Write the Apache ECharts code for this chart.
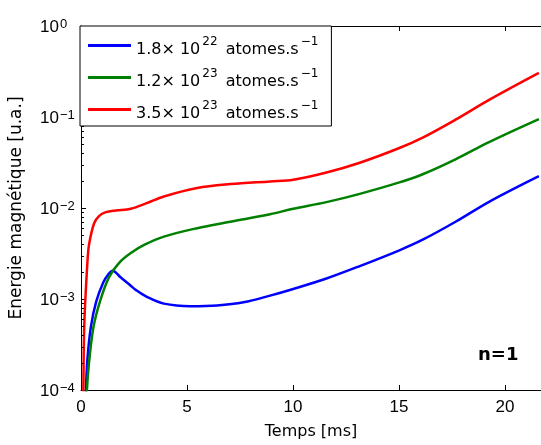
<!DOCTYPE html>
<html><head><meta charset="utf-8">
<script src="https://cdn.jsdelivr.net/npm/echarts@6/dist/echarts.min.js"></script>
<style>html,body{margin:0;padding:0;background:#fff}#c{width:541px;height:445px}</style>
</head><body><div id="c"></div>
<script>
// ---- data ----
const legendMantissa = ['1.8', '1.2', '3.5'];
const legendExponent = ['22', '23', '23'];
const seriesColors = ['#0000ff', '#008000', '#ff0000'];

const blueX = [0.15, 0.23, 0.31, 0.47, 0.72, 1.05, 1.30, 1.49, 1.88, 2.35, 2.58, 3.13, 3.91, 5.16, 6.42, 7.67, 8.92, 10.01, 11.58, 13.15, 15.02, 16.12, 17.69, 19.25, 21.6];
const blueY = [3e-5, 1e-4, 2.3e-4, 5.0e-4, 9.4e-4, 1.52e-3, 1.88e-3, 2.05e-3, 1.72e-3, 1.40e-3, 1.26e-3, 1.05e-3, 8.9e-4, 8.35e-4, 8.5e-4, 9.2e-4, 1.09e-3, 1.29e-3, 1.68e-3, 2.3e-3, 3.43e-3, 4.48e-3, 7.1e-3, 1.17e-2, 2.24e-2];

const greenX = [0.2, 0.28, 0.36, 0.58, 0.9, 1.33, 1.80, 2.35, 3.0, 3.91, 5.48, 7.04, 8.92, 10.01, 11.58, 13.15, 15.02, 16.12, 17.69, 19.25, 21.6];
const greenY = [3e-5, 1e-4, 1.8e-4, 4.8e-4, 9.5e-4, 1.75e-3, 2.5e-3, 3.2e-3, 3.95e-3, 4.85e-3, 6.0e-3, 7.06e-3, 8.55e-3, 9.8e-3, 1.16e-2, 1.43e-2, 1.91e-2, 2.35e-2, 3.45e-2, 5.31e-2, 9.5e-2];

const redX = [0.07, 0.11, 0.155, 0.31, 0.39, 0.62, 0.86, 1.17, 1.64, 2.35, 3.1, 3.91, 5.48, 7.04, 8.92, 10.01, 11.58, 13.15, 15.02, 16.12, 17.69, 19.25, 21.6];
const redY = [3e-5, 1e-4, 5.2e-4, 2.7e-3, 4.1e-3, 6.8e-3, 8.2e-3, 9.0e-3, 9.4e-3, 9.8e-3, 1.13e-2, 1.34e-2, 1.66e-2, 1.83e-2, 1.96e-2, 2.04e-2, 2.45e-2, 3.14e-2, 4.56e-2, 5.93e-2, 9.4e-2, 0.154, 0.305];

const xTicks = [0, 5, 10, 15, 20];
const yDecades = [1e-4, 1e-3, 1e-2, 1e-1, 1];
const minorTickValues = [];
for (let d = 0; d < yDecades.length - 1; d++) {
  for (let k = 2; k <= 9; k++) minorTickValues.push(k * yDecades[d]);
}

const FONT = '"Liberation Sans", Arial, Helvetica, sans-serif';
const FONT2 = '"DejaVu Sans", "Liberation Sans", sans-serif';
const seriesNames = legendMantissa.map((m, i) => m + '× 10^' + legendExponent[i] + ' atomes.s^−1');
const xs = [blueX, greenX, redX];
const ys = [blueY, greenY, redY];

const chart = echarts.init(document.getElementById('c'), null, {renderer: 'canvas'});

const lineSeries = seriesNames.map((name, i) => ({
  name: name,
  type: 'line',
  data: xs[i].map((x, j) => [x, ys[i][j]]),
  symbol: 'none',
  showSymbol: false,
  smooth: 0.35,
  clip: true,
  lineStyle: {color: seriesColors[i], width: 2.5},
  itemStyle: {color: seriesColors[i]},
  emphasis: {disabled: true},
  z: 2
}));

const option = {
  animation: false,
  backgroundColor: '#fff',
  textStyle: {fontFamily: FONT},
  grid: {left: 80, top: 26, right: -1, bottom: 49, containLabel: false},
  xAxis: [{
    type: 'value', min: 0, max: 21.7, interval: 5, position: 'bottom',
    name: 'Temps [ms]', nameLocation: 'middle', nameGap: 34,
    nameTextStyle: {fontSize: 16, color: '#000', fontFamily: FONT2},
    axisLine: {show: true, lineStyle: {color: '#000', width: 1}},
    axisTick: {show: true, inside: true, length: 5, lineStyle: {color: '#000'}},
    axisLabel: {fontSize: 17, color: '#000', margin: 9, fontFamily: FONT, showMaxLabel: false,
      formatter: v => (xTicks.indexOf(v) >= 0 ? String(v) : '')},
    splitLine: {show: false}
  }, {
    type: 'value', min: 0, max: 21.7, interval: 5, position: 'top',
    axisLine: {show: true, lineStyle: {color: '#000', width: 1}},
    axisTick: {show: true, inside: true, length: 5, lineStyle: {color: '#000'}},
    axisLabel: {show: false},
    splitLine: {show: false}
  }],
  yAxis: {
    type: 'log', logBase: 10, min: 1e-4, max: 1,
    name: 'Energie magnétique [u.a.]', nameLocation: 'middle', nameGap: 56,
    nameTextStyle: {fontSize: 17, color: '#000', fontFamily: FONT2},
    axisLine: {show: true, lineStyle: {color: '#000', width: 1}},
    axisTick: {show: true, inside: true, length: 5, lineStyle: {color: '#000'}},
    axisLabel: {
      margin: 41, align: 'left', color: '#000', fontFamily: FONT,
      formatter: v => {
        const e = Math.round(Math.log10(v));
        return '{b|10}{s|' + (e < 0 ? '−' + (-e) : String(e)) + '}';
      },
      rich: {
        b: {fontSize: 17, lineHeight: 17, padding: [3, 0, 0, 0], color: '#000', fontFamily: FONT},
        s: {fontSize: 13, lineHeight: 4, verticalAlign: 'top', padding: [0, 0, 0, 1], color: '#000', fontFamily: FONT}
      }
    },
    splitLine: {show: false},
    minorTick: {show: false}
  },
  legend: {
    show: true,
    data: seriesNames,
    orient: 'vertical',
    left: 80, top: 26,
    padding: [7, 10, 4, 8],
    itemGap: 7,
    itemWidth: 43, itemHeight: 3,
    icon: 'rect',
    backgroundColor: '#fff',
    borderColor: '#000', borderWidth: 1, borderRadius: 0,
    selectedMode: false,
    formatter: name => {
      const i = seriesNames.indexOf(name);
      return '{n|' + legendMantissa[i] + '× 10}{s|' + legendExponent[i] + '}{n| atomes.s}{s|−1}';
    },
    textStyle: {
      fontSize: 16, color: '#000', fontFamily: FONT2,
      rich: {
        n: {fontSize: 16, lineHeight: 16, padding: [9, 0, 0, 0], color: '#000', fontFamily: FONT2},
        s: {fontSize: 12, lineHeight: 12, padding: [3, 3, 10, 2], color: '#000', fontFamily: FONT2}
      }
    }
  },
  graphic: [{
    type: 'text', left: 478, top: 346, z: 10,
    style: {text: 'n=1', font: 'bold 18px "DejaVu Sans", sans-serif', fill: '#000'}
  }],
  series: lineSeries.concat([{
    type: 'custom',
    name: 'minorTicks',
    silent: true,
    clip: false,
    z: 3,
    data: minorTickValues.map(v => [0, v]),
    renderItem: (params, api) => {
      const p = api.coord([api.value(0), api.value(1)]);
      const y = Math.round(p[1]) + 0.5;
      return {type: 'line', shape: {x1: p[0], y1: y, x2: p[0] + 3, y2: y},
        style: {stroke: '#000', lineWidth: 1}};
    }
  }])
};
chart.setOption(option);
</script>
</body></html>
